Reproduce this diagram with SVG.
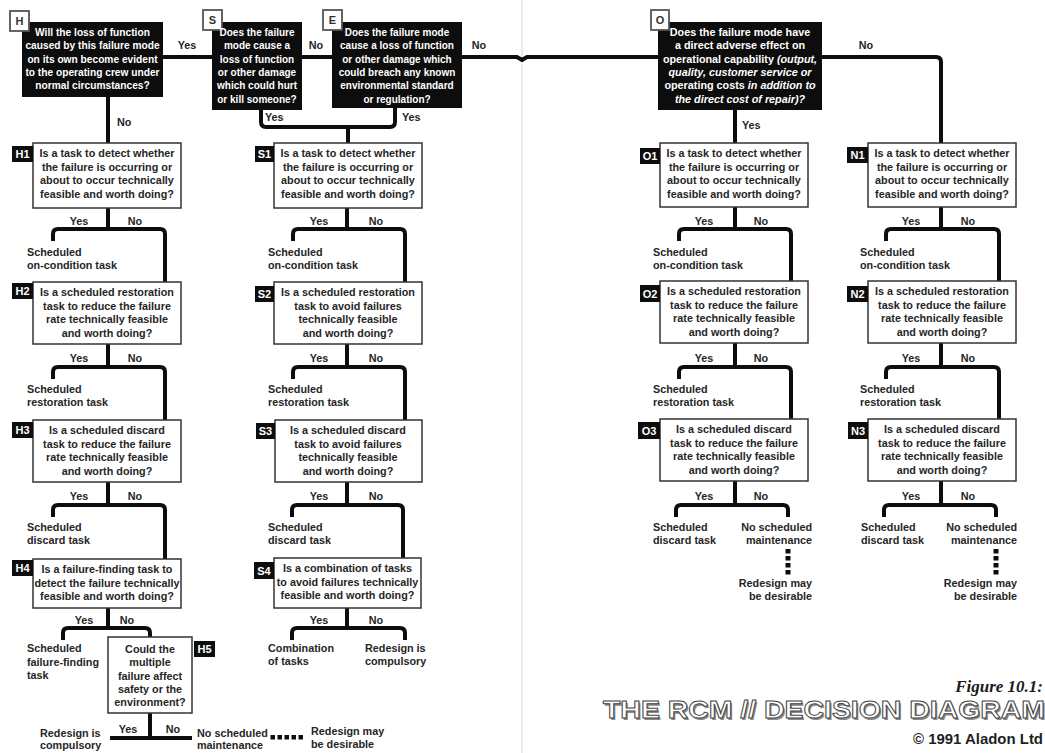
<svg xmlns="http://www.w3.org/2000/svg" width="1045" height="753" viewBox="0 0 1045 753">
  <style>
    .t { font-family: "Liberation Sans", Arial, Helvetica, sans-serif; font-weight: bold; font-size: 10.8px; fill: #262626; }
    .s10 { font-size: 10px; }
    .s103 { font-size: 10.2px; }
    .w { fill: #ffffff; }
    .m { text-anchor: middle; }
    .e { text-anchor: end; }
    .i { font-style: italic; }
    .q { fill: #ffffff; stroke: #333333; stroke-width: 1.5; }
    .qb { fill: #0d0d0d; }
    .tag { fill: #0d0d0d; }
    .tagt { font-family: "Liberation Sans", Arial, sans-serif; font-weight: bold; font-size: 11px; fill: #ffffff; text-anchor: middle; }
    .sq { fill: #ffffff; stroke: #555555; stroke-width: 1.8; }
    .sqt { font-family: "Liberation Sans", Arial, sans-serif; font-weight: bold; font-size: 11px; fill: #333333; text-anchor: middle; }
    .conn { fill: none; stroke: #0d0d0d; stroke-width: 4; stroke-linejoin: round; }
    .dot { fill: #0d0d0d; }
  </style>

  <rect width="1045" height="753" fill="#ffffff"/>
  <!-- book gutter -->
  <line x1="522" y1="0" x2="522" y2="753" stroke="#d9d9d9" stroke-width="1"/>

  <!-- connectors -->
  <g id="connectors" class="conn">
    <!-- top row -->
    <path d="M163 57 H212"/>
    <path d="M302 57 H332"/>
    <path d="M462 57 H517 L522 60 L527 57 H658"/>
    <path d="M822 57 H936 Q941 57 941 62 V143"/>
    <path d="M108 97 V143"/>
    <path d="M261 110 V122 Q261 127 266 127 H390 Q395 127 395 122 V108"/>
    <path d="M348 127 V143"/>
    <path d="M735 110 V143"/>
    <!-- H column -->
    <path d="M108 208 V229 M53 241 V234 Q53 229 58 229 H160 Q165 229 165 234 V282"/>
    <path d="M108 344 V367 M53 379 V372 Q53 367 58 367 H160 Q165 367 165 372 V420"/>
    <path d="M108 482 V505 M53 517 V510 Q53 505 58 505 H160 Q165 505 165 510 V559"/>
    <path d="M108 608 V628 M63 640 V633 Q63 628 68 628 H145 Q150 628 150 633 V637"/>
    <path d="M150 713 V738 M110 738 H192"/>
    <!-- S column -->
    <path d="M347 208 V229 M293 241 V234 Q293 229 298 229 H400 Q405 229 405 234 V282"/>
    <path d="M347 344 V367 M293 379 V372 Q293 367 298 367 H400 Q405 367 405 372 V420"/>
    <path d="M347 482 V505 M292 517 V510 Q292 505 297 505 H398 Q403 505 403 510 V558"/>
    <path d="M347 608 V628 M292 640 V633 Q292 628 297 628 H400 Q405 628 405 633 V640"/>
    <!-- O column -->
    <path d="M735 207 V229 M679 241 V234 Q679 229 684 229 H786 Q791 229 791 234 V281"/>
    <path d="M735 343 V367 M679 379 V372 Q679 367 684 367 H786 Q791 367 791 372 V419"/>
    <path d="M735 481 V505 M676 517 V510 Q676 505 681 505 H783 Q788 505 788 510 V517"/>
    <!-- N column -->
    <path d="M941 207 V229 M886 241 V234 Q886 229 891 229 H994 Q999 229 999 234 V281"/>
    <path d="M941 343 V367 M886 379 V372 Q886 367 891 367 H994 Q999 367 999 372 V419"/>
    <path d="M941 481 V505 M884 517 V510 Q884 505 889 505 H991 Q996 505 996 510 V517"/>
  </g>

  <!-- dotted links to "Redesign may be desirable" -->
  <g id="dotted-links" class="dot">
    <rect x="270.5" y="735" width="4.5" height="4.5"/>
    <rect x="277.5" y="735" width="4.5" height="4.5"/>
    <rect x="284.5" y="735" width="4.5" height="4.5"/>
    <rect x="291.5" y="735" width="4.5" height="4.5"/>
    <rect x="298.5" y="735" width="4.5" height="4.5"/>
    <rect x="785.5" y="549" width="5" height="4.5"/>
    <rect x="785.5" y="556" width="5" height="4.5"/>
    <rect x="785.5" y="563" width="5" height="4.5"/>
    <rect x="785.5" y="570" width="5" height="4.5"/>
    <rect x="993.5" y="549" width="5" height="4.5"/>
    <rect x="993.5" y="556" width="5" height="4.5"/>
    <rect x="993.5" y="563" width="5" height="4.5"/>
    <rect x="993.5" y="570" width="5" height="4.5"/>
  </g>

  <!-- branch labels -->
  <g id="branch-labels" class="t">
    <text class="m" x="187" y="49">Yes</text>
    <text class="m" x="316" y="49">No</text>
    <text class="m" x="479" y="49">No</text>
    <text class="m" x="866" y="49">No</text>
    <text x="117" y="126">No</text>
    <text x="265" y="121">Yes</text>
    <text x="402" y="121">Yes</text>
    <text x="742" y="129">Yes</text>

    <text class="m" x="79" y="225">Yes</text><text class="m" x="135" y="225">No</text>
    <text class="m" x="79" y="362">Yes</text><text class="m" x="135" y="362">No</text>
    <text class="m" x="79" y="500">Yes</text><text class="m" x="135" y="500">No</text>
    <text class="m" x="84" y="624">Yes</text><text class="m" x="127" y="624">No</text>
    <text class="m" x="128" y="733">Yes</text><text class="m" x="173" y="733">No</text>

    <text class="m" x="319" y="225">Yes</text><text class="m" x="376" y="225">No</text>
    <text class="m" x="319" y="362">Yes</text><text class="m" x="376" y="362">No</text>
    <text class="m" x="319" y="500">Yes</text><text class="m" x="376" y="500">No</text>
    <text class="m" x="319" y="624">Yes</text><text class="m" x="376" y="624">No</text>

    <text class="m" x="704" y="225">Yes</text><text class="m" x="761" y="225">No</text>
    <text class="m" x="704" y="362">Yes</text><text class="m" x="761" y="362">No</text>
    <text class="m" x="704" y="500">Yes</text><text class="m" x="761" y="500">No</text>

    <text class="m" x="911" y="225">Yes</text><text class="m" x="968" y="225">No</text>
    <text class="m" x="911" y="362">Yes</text><text class="m" x="968" y="362">No</text>
    <text class="m" x="911" y="500">Yes</text><text class="m" x="968" y="500">No</text>
  </g>

  <!-- H: hidden failures -->
  <g id="node-H">
    <rect class="qb" x="22" y="22" width="141" height="75"/>
    <rect class="sq" x="10" y="11" width="19" height="20"/>
    <text class="sqt" x="19.5" y="25">H</text>
    <text class="t s103 w m"><tspan x="92.5" y="36">Will the loss of function</tspan><tspan x="92.5" y="49.3">caused by this failure mode</tspan><tspan x="92.5" y="62.6">on its own become evident</tspan><tspan x="92.5" y="75.9">to the operating crew under</tspan><tspan x="92.5" y="89.2">normal circumstances?</tspan></text>
  </g>

  <g id="node-S">
    <rect class="qb" x="212" y="22" width="90" height="88"/>
    <rect class="sq" x="203" y="10" width="19" height="20"/>
    <text class="sqt" x="212.5" y="24">S</text>
    <text class="t s10 w m"><tspan x="257" y="36">Does the failure</tspan><tspan x="257" y="49.3">mode cause a</tspan><tspan x="257" y="62.6">loss of function</tspan><tspan x="257" y="75.9">or other damage</tspan><tspan x="257" y="89.2">which could hurt</tspan><tspan x="257" y="102.5">or kill someone?</tspan></text>
  </g>

  <g id="node-E">
    <rect class="qb" x="332" y="22" width="130" height="86"/>
    <rect class="sq" x="323" y="10" width="19" height="20"/>
    <text class="sqt" x="332.5" y="24">E</text>
    <text class="t s10 w m"><tspan x="397" y="36">Does the failure mode</tspan><tspan x="397" y="49.3">cause a loss of function</tspan><tspan x="397" y="62.6">or other damage which</tspan><tspan x="397" y="75.9">could breach any known</tspan><tspan x="397" y="89.2">environmental standard</tspan><tspan x="397" y="102.5">or regulation?</tspan></text>
  </g>

  <g id="node-O">
    <rect class="qb" x="658" y="22" width="164" height="88"/>
    <rect class="sq" x="651" y="10" width="18" height="20"/>
    <text class="sqt" x="660" y="24">O</text>
    <text class="t w m"><tspan x="740" y="36">Does the failure mode have</tspan><tspan x="740" y="49.3">a direct adverse effect on</tspan><tspan x="740" y="62.6">operational capability <tspan class="i">(output,</tspan></tspan><tspan x="740" y="75.9" class="i">quality, customer service or</tspan><tspan x="740" y="89.2">operating costs <tspan class="i">in addition to</tspan></tspan><tspan x="740" y="102.5" class="i">the direct cost of repair)?</tspan></text>
  </g>

  <!-- H column -->
  <g id="node-H1">
    <rect class="q" x="33" y="143" width="148" height="65"/>
    <rect class="tag" x="12" y="146" width="21" height="16"/>
    <text class="tagt" x="22.5" y="158">H1</text>
    <text class="t m"><tspan x="107" y="157">Is a task to detect whether</tspan><tspan x="107" y="170.5">the failure is occurring or</tspan><tspan x="107" y="184">about to occur technically</tspan><tspan x="107" y="197.5">feasible and worth doing?</tspan></text>
  </g>
  <g id="out-H1" class="t"><text x="27" y="256">Scheduled</text><text x="27" y="269">on-condition task</text></g>

  <g id="node-H2">
    <rect class="q" x="33" y="282" width="148" height="62"/>
    <rect class="tag" x="12" y="283" width="21" height="16"/>
    <text class="tagt" x="22.5" y="295">H2</text>
    <text class="t m"><tspan x="107" y="296">Is a scheduled restoration</tspan><tspan x="107" y="309.5">task to reduce the failure</tspan><tspan x="107" y="323">rate technically feasible</tspan><tspan x="107" y="336.5">and worth doing?</tspan></text>
  </g>
  <g id="out-H2" class="t"><text x="27" y="393">Scheduled</text><text x="27" y="406">restoration task</text></g>

  <g id="node-H3">
    <rect class="q" x="33" y="420" width="148" height="62"/>
    <rect class="tag" x="12" y="422" width="21" height="16"/>
    <text class="tagt" x="22.5" y="434">H3</text>
    <text class="t m"><tspan x="107" y="434">Is a scheduled discard</tspan><tspan x="107" y="447.5">task to reduce the failure</tspan><tspan x="107" y="461">rate technically feasible</tspan><tspan x="107" y="474.5">and worth doing?</tspan></text>
  </g>
  <g id="out-H3" class="t"><text x="27" y="531">Scheduled</text><text x="27" y="544">discard task</text></g>

  <g id="node-H4">
    <rect class="q" x="33" y="559" width="148" height="49"/>
    <rect class="tag" x="12" y="560" width="21" height="16"/>
    <text class="tagt" x="22.5" y="572">H4</text>
    <text class="t m"><tspan x="107" y="573">Is a failure-finding task to</tspan><tspan x="107" y="586.5">detect the failure technically</tspan><tspan x="107" y="600">feasible and worth doing?</tspan></text>
  </g>
  <g id="out-H4" class="t"><text x="27" y="652">Scheduled</text><text x="27" y="665.5">failure-finding</text><text x="27" y="679">task</text></g>

  <g id="node-H5">
    <rect class="q" x="108" y="637" width="84" height="76"/>
    <rect class="tag" x="194" y="641" width="21" height="16"/>
    <text class="tagt" x="204.5" y="653">H5</text>
    <text class="t m"><tspan x="150" y="653">Could the</tspan><tspan x="150" y="666">multiple</tspan><tspan x="150" y="679.5">failure affect</tspan><tspan x="150" y="692.5">safety or the</tspan><tspan x="150" y="706">environment?</tspan></text>
  </g>
  <g id="out-H5" class="t">
    <text x="40" y="737">Redesign is</text><text x="40" y="749">compulsory</text>
    <text x="197" y="737">No scheduled</text><text x="197" y="749">maintenance</text>
    <text x="311" y="735">Redesign may</text><text x="311" y="748">be desirable</text>
  </g>

  <!-- S column -->
  <g id="node-S1">
    <rect class="q" x="274" y="143" width="148" height="65"/>
    <rect class="tag" x="255" y="146" width="19" height="16"/>
    <text class="tagt" x="264.5" y="158">S1</text>
    <text class="t m"><tspan x="348" y="157">Is a task to detect whether</tspan><tspan x="348" y="170.5">the failure is occurring or</tspan><tspan x="348" y="184">about to occur technically</tspan><tspan x="348" y="197.5">feasible and worth doing?</tspan></text>
  </g>
  <g id="out-S1" class="t"><text x="268" y="256">Scheduled</text><text x="268" y="269">on-condition task</text></g>

  <g id="node-S2">
    <rect class="q" x="274" y="282" width="148" height="62"/>
    <rect class="tag" x="255" y="286" width="19" height="16"/>
    <text class="tagt" x="264.5" y="298">S2</text>
    <text class="t m"><tspan x="348" y="296">Is a scheduled restoration</tspan><tspan x="348" y="309.5">task to avoid failures</tspan><tspan x="348" y="323">technically feasible</tspan><tspan x="348" y="336.5">and worth doing?</tspan></text>
  </g>
  <g id="out-S2" class="t"><text x="268" y="393">Scheduled</text><text x="268" y="406">restoration task</text></g>

  <g id="node-S3">
    <rect class="q" x="275" y="420" width="147" height="62"/>
    <rect class="tag" x="256" y="423" width="19" height="16"/>
    <text class="tagt" x="265.5" y="435">S3</text>
    <text class="t m"><tspan x="348" y="434">Is a scheduled discard</tspan><tspan x="348" y="447.5">task to avoid failures</tspan><tspan x="348" y="461">technically feasible</tspan><tspan x="348" y="474.5">and worth doing?</tspan></text>
  </g>
  <g id="out-S3" class="t"><text x="268" y="531">Scheduled</text><text x="268" y="544">discard task</text></g>

  <g id="node-S4">
    <rect class="q" x="274" y="558" width="147" height="50"/>
    <rect class="tag" x="254" y="562" width="20" height="17"/>
    <text class="tagt" x="264" y="575">S4</text>
    <text class="t m"><tspan x="347.5" y="572">Is a combination of tasks</tspan><tspan x="347.5" y="585.5">to avoid failures technically</tspan><tspan x="347.5" y="599">feasible and worth doing?</tspan></text>
  </g>
  <g id="out-S4" class="t">
    <text x="268" y="652">Combination</text><text x="268" y="665">of tasks</text>
    <text x="365" y="652">Redesign is</text><text x="365" y="665">compulsory</text>
  </g>

  <!-- O column -->
  <g id="node-O1">
    <rect class="q" x="660" y="143" width="148" height="64"/>
    <rect class="tag" x="640" y="148" width="20" height="16"/>
    <text class="tagt" x="650" y="160">O1</text>
    <text class="t m"><tspan x="734" y="157">Is a task to detect whether</tspan><tspan x="734" y="170.5">the failure is occurring or</tspan><tspan x="734" y="184">about to occur technically</tspan><tspan x="734" y="197.5">feasible and worth doing?</tspan></text>
  </g>
  <g id="out-O1" class="t"><text x="653" y="256">Scheduled</text><text x="653" y="269">on-condition task</text></g>

  <g id="node-O2">
    <rect class="q" x="660" y="281" width="148" height="62"/>
    <rect class="tag" x="640" y="285" width="20" height="17"/>
    <text class="tagt" x="650" y="298">O2</text>
    <text class="t m"><tspan x="734" y="295">Is a scheduled restoration</tspan><tspan x="734" y="308.5">task to reduce the failure</tspan><tspan x="734" y="322">rate technically feasible</tspan><tspan x="734" y="335.5">and worth doing?</tspan></text>
  </g>
  <g id="out-O2" class="t"><text x="653" y="393">Scheduled</text><text x="653" y="406">restoration task</text></g>

  <g id="node-O3">
    <rect class="q" x="660" y="419" width="148" height="62"/>
    <rect class="tag" x="638" y="422" width="22" height="17"/>
    <text class="tagt" x="649" y="435">O3</text>
    <text class="t m"><tspan x="734" y="433">Is a scheduled discard</tspan><tspan x="734" y="446.5">task to reduce the failure</tspan><tspan x="734" y="460">rate technically feasible</tspan><tspan x="734" y="473.5">and worth doing?</tspan></text>
  </g>
  <g id="out-O3" class="t">
    <text x="653" y="531">Scheduled</text><text x="653" y="544">discard task</text>
    <text class="e" x="812" y="531">No scheduled</text><text class="e" x="812" y="544">maintenance</text>
    <text class="e" x="812" y="587">Redesign may</text><text class="e" x="812" y="600">be desirable</text>
  </g>

  <!-- N column -->
  <g id="node-N1">
    <rect class="q" x="868" y="143" width="148" height="64"/>
    <rect class="tag" x="847" y="147" width="21" height="16"/>
    <text class="tagt" x="857.5" y="159">N1</text>
    <text class="t m"><tspan x="942" y="157">Is a task to detect whether</tspan><tspan x="942" y="170.5">the failure is occurring or</tspan><tspan x="942" y="184">about to occur technically</tspan><tspan x="942" y="197.5">feasible and worth doing?</tspan></text>
  </g>
  <g id="out-N1" class="t"><text x="860" y="256">Scheduled</text><text x="860" y="269">on-condition task</text></g>

  <g id="node-N2">
    <rect class="q" x="868" y="281" width="148" height="62"/>
    <rect class="tag" x="847" y="286" width="21" height="16"/>
    <text class="tagt" x="857.5" y="298">N2</text>
    <text class="t m"><tspan x="942" y="295">Is a scheduled restoration</tspan><tspan x="942" y="308.5">task to reduce the failure</tspan><tspan x="942" y="322">rate technically feasible</tspan><tspan x="942" y="335.5">and worth doing?</tspan></text>
  </g>
  <g id="out-N2" class="t"><text x="860" y="393">Scheduled</text><text x="860" y="406">restoration task</text></g>

  <g id="node-N3">
    <rect class="q" x="868" y="419" width="148" height="62"/>
    <rect class="tag" x="848" y="422" width="20" height="17"/>
    <text class="tagt" x="858" y="435">N3</text>
    <text class="t m"><tspan x="942" y="433">Is a scheduled discard</tspan><tspan x="942" y="446.5">task to reduce the failure</tspan><tspan x="942" y="460">rate technically feasible</tspan><tspan x="942" y="473.5">and worth doing?</tspan></text>
  </g>
  <g id="out-N3" class="t">
    <text x="861" y="531">Scheduled</text><text x="861" y="544">discard task</text>
    <text class="e" x="1017" y="531">No scheduled</text><text class="e" x="1017" y="544">maintenance</text>
    <text class="e" x="1017" y="587">Redesign may</text><text class="e" x="1017" y="600">be desirable</text>
  </g>

  <!-- caption -->
  <g id="caption">
    <text x="1043" y="692" text-anchor="end" font-family="'Liberation Serif', 'Times New Roman', serif" font-weight="bold" font-style="italic" font-size="17" fill="#1a1a1a">Figure 10.1:</text>
    <text x="604.5" y="719.5" textLength="442" lengthAdjust="spacingAndGlyphs" font-family="'Liberation Sans', Arial, sans-serif" font-weight="bold" font-size="24" fill="#8a8a8a">THE RCM // DECISION DIAGRAM</text>
    <text x="603" y="718" textLength="442" lengthAdjust="spacingAndGlyphs" font-family="'Liberation Sans', Arial, sans-serif" font-weight="bold" font-size="24" fill="#ffffff" stroke="#444444" stroke-width="0.9">THE RCM // DECISION DIAGRAM</text>
    <text x="913" y="744" textLength="130" lengthAdjust="spacingAndGlyphs" font-family="'Liberation Sans', Arial, sans-serif" font-weight="bold" font-size="14" fill="#1f1f1f">© 1991 Aladon Ltd</text>
  </g>
</svg>
